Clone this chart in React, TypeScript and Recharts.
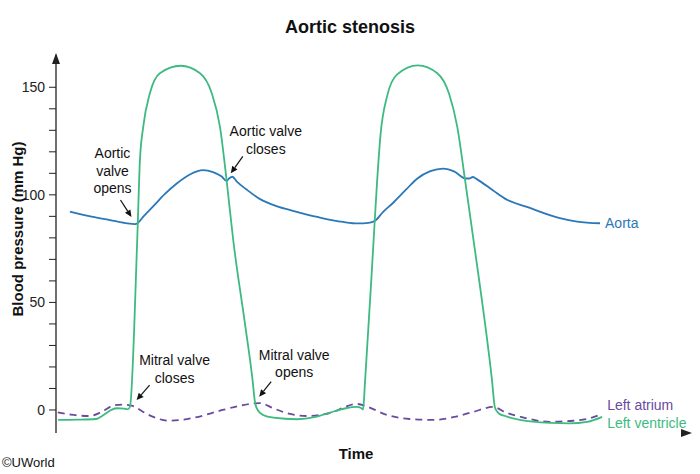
import { LineChart, Line, XAxis, YAxis, ReferenceDot } from "recharts"

// time in ms, pressure in mm Hg
const aortaPoints: [number, number][] = [
  [46, 92.2], [110, 90.1], [179, 88.3], [230, 86.9], [262, 86.4], [270, 86.8],
  [290, 90.0], [321, 94.5], [360, 100.3], [401, 105.4], [445, 109.6], [487, 111.5],
  [520, 110.6], [548, 108.6], [565, 106.5], [574, 107.7], [584, 108.4], [600, 106.0],
  [630, 102.6], [676, 98.0], [730, 94.8], [785, 92.6], [870, 89.6], [951, 87.4],
  [1000, 86.7], [1035, 87.0], [1057, 88.0], [1083, 92], [1116, 96.2], [1160, 102.5],
  [1196, 107.5], [1240, 111.0], [1282, 112.2], [1320, 110.8], [1355, 107.7],
  [1368, 107.6], [1381, 108.3], [1395, 107.2], [1448, 102], [1490, 98], [1560, 94.4],
  [1669, 89.2], [1726, 87.6], [1802, 86.8],
]

const ventriclePoints: [number, number][] = [
  [7, -4.6], [70, -4.5], [133, -4.2], [150, -3.0], [166, -1.5], [185, 0.2], [204, 0.8],
  [225, 0.6], [238, 0.3], [245, 1.5], [269, 79], [278, 116], [289, 131.7], [311, 147.2],
  [344, 156.5], [413, 160], [477, 156.5], [516, 147.2], [543, 131.7], [565, 106.9],
  [587, 79], [626, 40], [651, 14], [659, 3.7], [668, 0], [686, -2.3],
  [720, -3.6], [798, -4.3], [860, -3.2], [908, -1.2], [960, 0.8], [995, 1.4], [1012, 0.8],
  [1017, 0.2], [1024, 14], [1050, 74], [1063, 105], [1075, 128], [1097, 146],
  [1130, 156], [1199, 160.2], [1263, 156.5], [1302, 147], [1329, 131.7], [1355, 106.8],
  [1388, 74], [1444, 14], [1454, 1.0], [1466, -1.5], [1494, -3.1], [1537, -4.6],
  [1636, -6], [1700, -6.2], [1760, -5.5], [1809, -3.2],
]

const atriumPoints: [number, number][] = [
  [6, -1.1], [50, -2.2], [110, -2.8], [150, -1.0], [193, 2.2], [221, 2.5], [254, 1.9],
  [285, -0.6], [320, -3.1], [375, -5.0], [450, -3.8], [552, 0], [620, 2.3], [676, 3.2],
  [720, 0.8], [765, -1.5], [831, -2.8], [918, -0.9], [960, 1.6], [997, 2.8], [1030, 1.6],
  [1096, -2.3], [1170, -4.2], [1249, -4.6], [1320, -3.2], [1381, -0.9], [1448, 1.4],
  [1490, -1.2], [1537, -3.1], [1636, -5.5], [1713, -5], [1770, -3.8], [1809, -1.8],
]

const yTicks = [0, 10, 20, 30, 40, 50, 60, 70, 80, 90, 100, 110, 120, 130, 140, 150]

// arrow tip (t, p) and text
const callouts = [
  { id: "avo", t: 250, p: 89.7, lines: ["Aortic", "valve", "opens"] },
  { id: "avc", t: 579, p: 110, lines: ["Aortic valve", "closes"] },
  { id: "mvc", t: 267, p: 4.6, lines: ["Mitral valve", "closes"] },
  { id: "mvo", t: 673, p: 6.2, lines: ["Mitral valve", "opens"] },
]

const calloutLayout: Record<string, { tail: [number, number]; text: [number, number] }> = {
  avo: { tail: [-11, -17], text: [-19, -64] },
  avc: { tail: [12, -17], text: [35, -42] },
  mvc: { tail: [13, -15], text: [38, -40] },
  mvo: { tail: [12, -15], text: [35, -42] },
}

const toRows = (pts: [number, number][]) => pts.map(([t, p]) => ({ t, p }))

const AORTA = "#2a78b8"
const LV = "#3dba80"
const LA = "#6b4a9e"
const FONT = "'Liberation Sans', Arial, sans-serif"

function Callout(props: any) {
  const { cx, cy, id, lines } = props
  const lay = calloutLayout[id]
  const tx = cx + lay.tail[0]
  const ty = cy + lay.tail[1]
  const ang = Math.atan2(cy - ty, cx - tx)
  const head = 7
  const w = 3.2
  const bx = cx - head * Math.cos(ang)
  const by = cy - head * Math.sin(ang)
  const pts = `${cx},${cy} ${bx + w * Math.sin(ang)},${by - w * Math.cos(ang)} ${bx - w * Math.sin(ang)},${by + w * Math.cos(ang)}`
  return (
    <g>
      <line x1={tx} y1={ty} x2={bx} y2={by} stroke="#111" strokeWidth={1.2} />
      <polygon points={pts} fill="#111" />
      {lines.map((s: string, i: number) => (
        <text
          key={s}
          x={cx + lay.text[0]}
          y={cy + lay.text[1] + i * 17.6}
          textAnchor="middle"
          dominantBaseline="central"
          fontSize={14}
          fontFamily={FONT}
          fill="#111"
        >
          {s}
        </text>
      ))}
    </g>
  )
}

function EndLabel({ cx, cy, text, color, dy }: any) {
  return (
    <text x={cx + 5} y={cy + dy} dominantBaseline="central" fontSize={14} fontFamily={FONT} fill={color}>
      {text}
    </text>
  )
}

function ArrowHead({ cx, cy, dir }: any) {
  const pts =
    dir === "up"
      ? `${cx},${cy - 2} ${cx - 4},${cy + 9} ${cx + 4},${cy + 9}`
      : `${cx + 2},${cy} ${cx - 9},${cy - 4} ${cx - 9},${cy + 4}`
  return <polygon points={pts} fill="#222" />
}

export default function App() {
  const aorta = toRows(aortaPoints)
  const lv = toRows(ventriclePoints)
  const la = toRows(atriumPoints)
  const lastA = aorta[aorta.length - 1]
  const lastV = lv[lv.length - 1]
  const lastLa = la[la.length - 1]

  return (
    <div style={{ position: "absolute", left: 0, top: 0, width: 700, height: 474, background: "#fff", fontFamily: FONT }}>
      <LineChart width={700} height={474} margin={{ top: 55, right: 10, bottom: 41, left: 0 }}>
        <XAxis
          type="number"
          dataKey="t"
          domain={[0, 2100]}
          height={0}
          tick={false}
          tickLine={false}
          axisLine={{ stroke: "#222", strokeWidth: 1.3 }}
          allowDataOverflow
        />
        <YAxis
          type="number"
          dataKey="p"
          domain={[-10.7, 165]}
          ticks={yTicks}
          width={56}
          tickSize={7}
          tickMargin={4}
          tickFormatter={(v: number) => (v % 50 === 0 ? String(v) : "")}
          tick={{ fontSize: 14, fill: "#222", fontFamily: FONT }}
          tickLine={{ stroke: "#222" }}
          axisLine={{ stroke: "#222", strokeWidth: 1.3 }}
          allowDataOverflow
        />
        <Line data={la} dataKey="p" type="monotone" stroke={LA} strokeWidth={1.8} strokeDasharray="7 5" dot={false} isAnimationActive={false} />
        <Line data={aorta} dataKey="p" type="monotone" stroke={AORTA} strokeWidth={1.8} dot={false} isAnimationActive={false} />
        <Line data={lv} dataKey="p" type="monotone" stroke={LV} strokeWidth={1.8} dot={false} isAnimationActive={false} />
        {callouts.map((c) => (
          <ReferenceDot
            key={c.id}
            x={c.t}
            y={c.p}
            r={0}
            ifOverflow="visible"
            shape={(p: any) => <Callout {...p} id={c.id} lines={c.lines} />}
          />
        ))}
        <ReferenceDot x={lastA.t} y={lastA.p} r={0} ifOverflow="visible" shape={(p: any) => <EndLabel {...p} text="Aorta" color={AORTA} dy={0} />} />
        <ReferenceDot x={lastLa.t} y={lastLa.p} r={0} ifOverflow="visible" shape={(p: any) => <EndLabel {...p} text="Left atrium" color={LA} dy={-9} />} />
        <ReferenceDot x={lastV.t} y={lastV.p} r={0} ifOverflow="visible" shape={(p: any) => <EndLabel {...p} text="Left ventricle" color={LV} dy={6} />} />
        <ReferenceDot x={0} y={165} r={0} ifOverflow="visible" shape={(p: any) => <ArrowHead {...p} dir="up" />} />
        <ReferenceDot x={2100} y={-10.7} r={0} ifOverflow="visible" shape={(p: any) => <ArrowHead {...p} dir="right" />} />
      </LineChart>
      <div style={{ position: "absolute", left: 0, top: 17, width: 700, textAlign: "center", fontSize: 18, fontWeight: "bold", color: "#111" }}>
        Aortic stenosis
      </div>
      <div
        style={{
          position: "absolute",
          left: 17,
          top: 229,
          transform: "translate(-50%, -50%) rotate(-90deg)",
          whiteSpace: "nowrap",
          fontSize: 15,
          fontWeight: "bold",
          color: "#111",
        }}
      >
        Blood pressure (mm Hg)
      </div>
      <div style={{ position: "absolute", left: 356, top: 453, transform: "translate(-50%, -50%)", fontSize: 15, fontWeight: "bold", color: "#111" }}>
        Time
      </div>
      <div style={{ position: "absolute", left: 2, top: 455, fontSize: 13, color: "#111" }}>©UWorld</div>
    </div>
  )
}
